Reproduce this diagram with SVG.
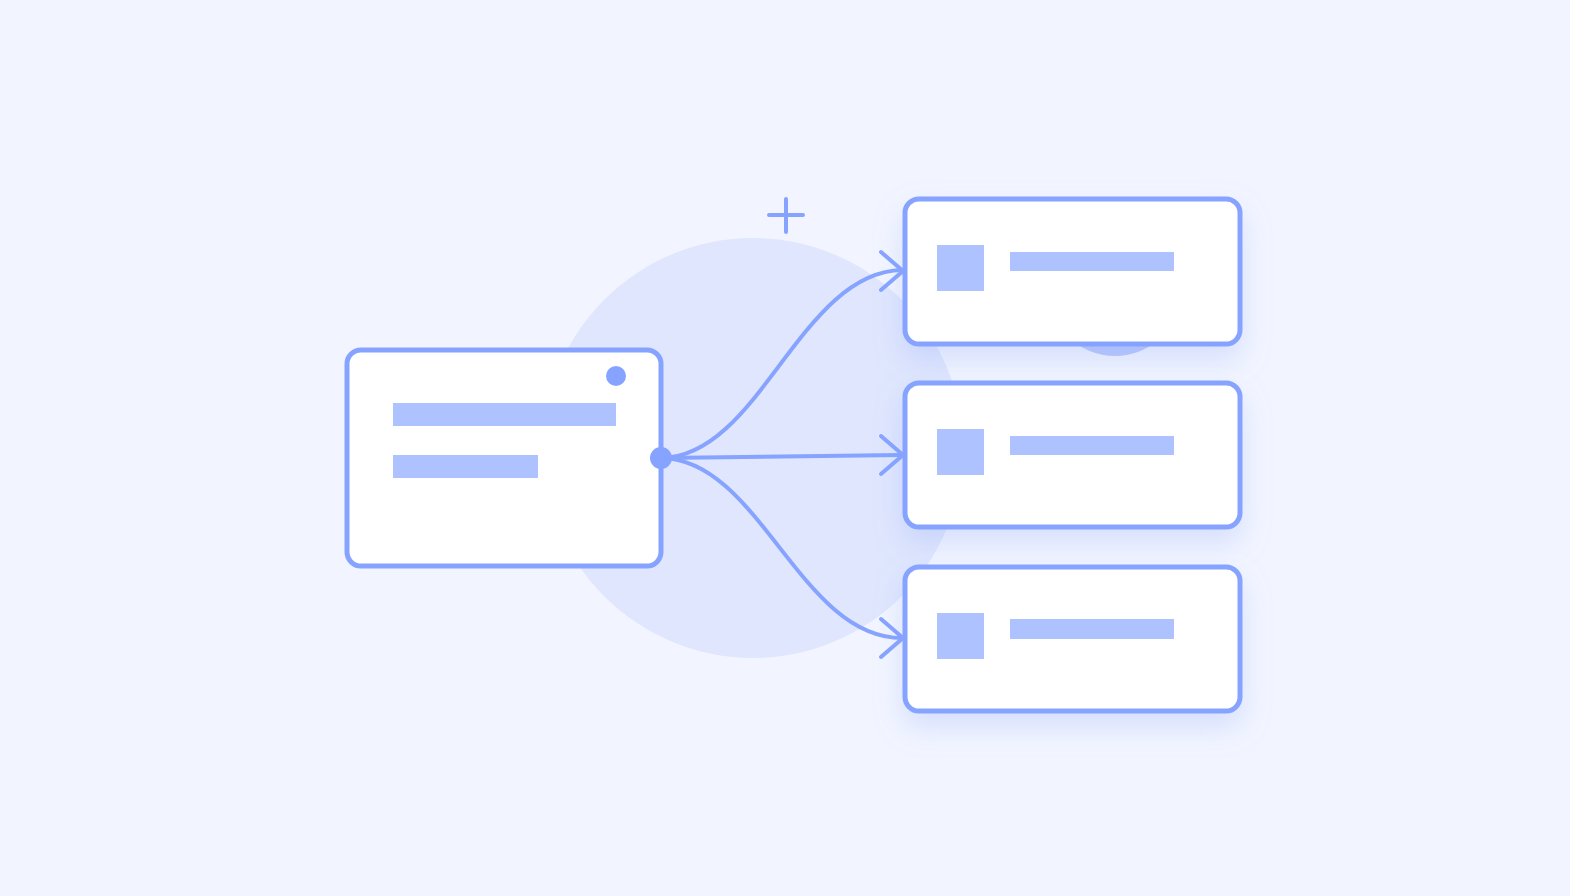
<svg xmlns="http://www.w3.org/2000/svg" width="1570" height="896" viewBox="0 0 1570 896">
<style>
.card{fill:#ffffff;stroke:#86a3ff;stroke-width:5}
.bar{fill:#adc2ff}
.conn{fill:none;stroke:#86a3ff;stroke-width:4;stroke-linecap:round}
.head{fill:none;stroke:#86a3ff;stroke-width:4;stroke-linecap:round;stroke-linejoin:round}
</style>
<defs>
<filter id="sh" x="-20%" y="-30%" width="140%" height="170%">
<feDropShadow dx="0" dy="14" stdDeviation="14" flood-color="#8ea6f5" flood-opacity="0.28"/>
</filter>
</defs>
<rect x="0" y="0" width="1570" height="896" fill="#f2f5ff"/>
<circle cx="753" cy="448" r="210" fill="#dfe6fd"/>
<circle cx="1115" cy="290" r="66" fill="#b7c7fd"/>
<path d="M786 199 V232 M769 215 H803" stroke="#86a3ff" stroke-width="4" stroke-linecap="round" fill="none"/>

<g id="source">
<rect class="card" x="347" y="350" width="314" height="216" rx="14"/>
<rect class="bar" x="393" y="403" width="223" height="23"/>
<rect class="bar" x="393" y="455" width="145" height="23"/>
<circle cx="616" cy="376" r="10" fill="#86a3ff"/>
</g>

<g id="target1" filter="url(#sh)">
<rect class="card" x="905" y="199" width="335" height="145" rx="14"/>
<rect class="bar" x="937" y="245" width="47" height="46"/>
<rect class="bar" x="1010" y="252" width="164" height="19"/>
</g>
<g id="target2" filter="url(#sh)">
<rect class="card" x="905" y="383" width="335" height="144" rx="14"/>
<rect class="bar" x="937" y="429" width="47" height="46"/>
<rect class="bar" x="1010" y="436" width="164" height="19"/>
</g>
<g id="target3" filter="url(#sh)">
<rect class="card" x="905" y="567" width="335" height="144" rx="14"/>
<rect class="bar" x="937" y="613" width="47" height="46"/>
<rect class="bar" x="1010" y="619" width="164" height="20"/>
</g>

<g id="connectors">
<path class="conn" d="M662 458 C760 456 800 272 902 270"/>
<path class="conn" d="M662 458 L902 455"/>
<path class="conn" d="M662 458 C760 460 800 638 902 638"/>
<path class="head" d="M881 252 L903 271 L881 290"/>
<path class="head" d="M881 436 L903 455 L881 474"/>
<path class="head" d="M881 619 L903 638 L881 657"/>
<circle cx="661" cy="458" r="11" fill="#86a3ff"/>
</g>
</svg>
